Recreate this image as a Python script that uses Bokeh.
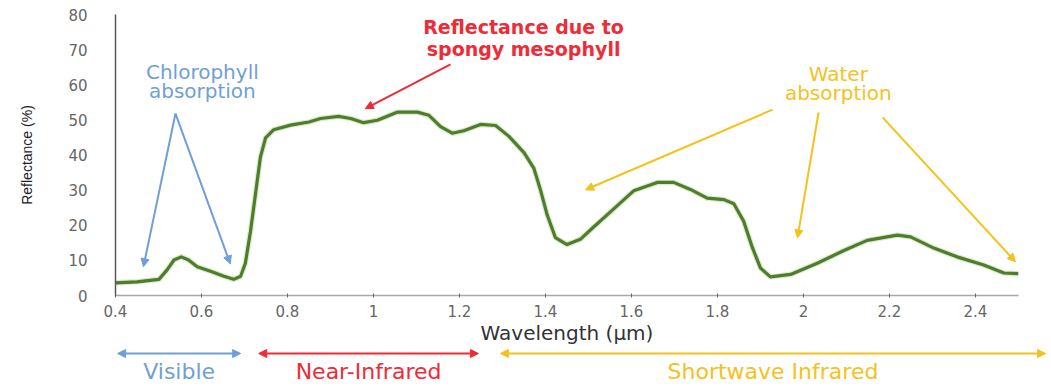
from bokeh.plotting import figure
from bokeh.models import Arrow, NormalHead, FixedTicker
from bokeh.core.properties import value
from bokeh.embed import file_html
from bokeh.resources import INLINE

# ---- data ----
wavelength = [0.400, 0.450, 0.501, 0.520, 0.536, 0.553, 0.570, 0.590, 0.621, 0.652,
              0.675, 0.691, 0.702, 0.714, 0.726, 0.737, 0.749, 0.768, 0.807, 0.850,
              0.877, 0.919, 0.947, 0.977, 1.009, 1.055, 1.102, 1.129, 1.156, 1.183,
              1.210, 1.249, 1.284, 1.315, 1.350, 1.373, 1.388, 1.404, 1.423, 1.450,
              1.481, 1.510, 1.551, 1.605, 1.660, 1.698, 1.737, 1.776, 1.815, 1.838,
              1.861, 1.881, 1.900, 1.923, 1.970, 2.032, 2.094, 2.148, 2.218, 2.249,
              2.303, 2.357, 2.419, 2.466, 2.500]
reflectance = [3.6, 3.9, 4.6, 7.3, 10.1, 11.0, 10.1, 8.2, 6.9, 5.5,
               4.6, 5.5, 9.2, 18.3, 29.3, 39.4, 44.9, 47.2, 48.5, 49.4,
               50.4, 51.0, 50.4, 49.2, 49.9, 52.2, 52.2, 51.3, 48.1, 46.2,
               46.9, 48.7, 48.4, 45.3, 40.7, 36.2, 30.2, 22.9, 16.5, 14.5,
               16.0, 19.3, 23.8, 29.8, 32.2, 32.2, 30.2, 27.7, 27.3, 26.1,
               21.1, 13.7, 7.8, 5.3, 6.0, 9.2, 12.8, 15.7, 17.2, 16.7,
               13.5, 11.0, 8.7, 6.4, 6.2]

x_ticks = [0.4, 0.6, 0.8, 1.0, 1.2, 1.4, 1.6, 1.8, 2.0, 2.2, 2.4]
x_tick_labels = ["0.4", "0.6", "0.8", "1", "1.2", "1.4", "1.6", "1.8", "2", "2.2", "2.4"]
y_ticks = [0, 10, 20, 30, 40, 50, 60, 70, 80]

bands = ["Visible", "Near-Infrared", "Shortwave Infrared"]
band_start = [0.405, 0.733, 1.295]
band_end = [0.691, 1.244, 2.563]

FONT = "DejaVu Sans"
BLUE = "#6f9fd6"
RED = "#ee2b36"
GOLD = "#f3c21c"
GREEN = "#4d7d2d"

p = figure(width=1043, height=347, x_range=(0.4, 2.5), y_range=(0, 80),
           output_backend="svg", toolbar_location=None,
           min_border_left=115, min_border_right=25, min_border_top=14, min_border_bottom=47)
p.outline_line_color = None
p.xgrid.grid_line_color = None
p.ygrid.grid_line_color = None

p.line(wavelength, reflectance, line_color="#9cc36b", line_width=5.5, line_alpha=0.35,
       line_join="round")
p.line(wavelength, reflectance, line_color=GREEN, line_width=3.2, line_join="round")

# axes
p.xaxis.ticker = FixedTicker(ticks=x_ticks)
p.xaxis.major_label_overrides = {t: l for t, l in zip(x_ticks, x_tick_labels)}
p.xaxis.minor_tick_line_color = None
p.xaxis.major_tick_in = 2
p.xaxis.major_tick_out = 2
p.xaxis.major_tick_line_color = "#666666"
p.xaxis.axis_line_color = "#a8a8a8"
p.xaxis.axis_line_width = 1.5
p.xaxis.major_label_text_font = FONT
p.xaxis.major_label_text_font_size = "15px"
p.xaxis.major_label_text_color = "#666666"
p.xaxis.major_label_standoff = 7
p.xaxis.axis_label = "Wavelength (µm)"
p.xaxis.axis_label_text_font = FONT
p.xaxis.axis_label_text_font_style = "normal"
p.xaxis.axis_label_text_font_size = "20px"
p.xaxis.axis_label_text_color = "#333333"
p.xaxis.axis_label_standoff = 1

p.yaxis.ticker = FixedTicker(ticks=y_ticks)
p.yaxis.minor_tick_line_color = None
p.yaxis.major_tick_line_color = None
p.yaxis.axis_line_color = "#595959"
p.yaxis.axis_line_width = 1.5
p.yaxis.major_label_text_font = FONT
p.yaxis.major_label_text_font_size = "15px"
p.yaxis.major_label_text_color = "#666666"
p.yaxis.major_label_standoff = 22
p.yaxis.axis_label = "Reflectance (%)"
p.yaxis.axis_label_text_font = "Liberation Sans"
p.yaxis.axis_label_text_font_style = "normal"
p.yaxis.axis_label_text_font_size = "14px"
p.yaxis.axis_label_text_color = "#222222"
p.yaxis.axis_label_standoff = 30

# annotation texts
def label(fig, x, y, txt, color, size, style="normal"):
    fig.text(x=[x], y=[y], text=[txt], text_color=color, text_font=value(FONT),
             text_font_size=size, text_font_style=style,
             text_align="center", text_baseline="middle")

label(p, 0.602, 63.7, "Chlorophyll", BLUE, "20px")
label(p, 0.602, 58.2, "absorption", BLUE, "20px")
label(p, 1.349, 76.4, "Reflectance due to", RED, "19px", "bold")
label(p, 1.349, 70.1, "spongy mesophyll", RED, "19px", "bold")
label(p, 2.081, 63.2, "Water", GOLD, "20px")
label(p, 2.081, 57.7, "absorption", GOLD, "20px")

def arrow(fig, xs, ys, xe, ye, color, both=False, width=2):
    head = lambda: NormalHead(size=8, fill_color=color, line_color=color)
    fig.add_layout(Arrow(x_start=xs, y_start=ys, x_end=xe, y_end=ye,
                         end=head(), start=head() if both else None,
                         line_color=color, line_width=width))

# chlorophyll
arrow(p, 0.5395, 51.8, 0.465, 8.2, BLUE)
arrow(p, 0.5395, 51.8, 0.667, 9.0, BLUE)
# spongy mesophyll
arrow(p, 1.179, 65.8, 0.981, 53.2, RED)
# water
arrow(p, 1.928, 52.9, 1.493, 30.1, GOLD)
arrow(p, 2.035, 52.1, 1.986, 16.4, GOLD)
arrow(p, 2.184, 50.7, 2.493, 9.6, GOLD)

# ---- bottom band: its own root, full width, same wavelength scale ----
PX_PER_UM = 903 / 2.1
b = figure(width=1051, height=40,
           x_range=(0.4 - 115 / PX_PER_UM, 0.4 + (1051 - 115) / PX_PER_UM), y_range=(0, 40),
           output_backend="svg", toolbar_location=None,
           x_axis_type=None, y_axis_type=None,
           min_border_left=0, min_border_right=0, min_border_top=0, min_border_bottom=0)
b.outline_line_color = None
b.xgrid.grid_line_color = None
b.ygrid.grid_line_color = None
band_colors = [BLUE, RED, GOLD]
for name, s, e, c in zip(bands, band_start, band_end, band_colors):
    arrow(b, s, 34, e, 34, c, both=True, width=2)
    label(b, (s + e) / 2, 16, name, c, "22px")

open("out.html", "w").write(file_html([p, b], INLINE))
